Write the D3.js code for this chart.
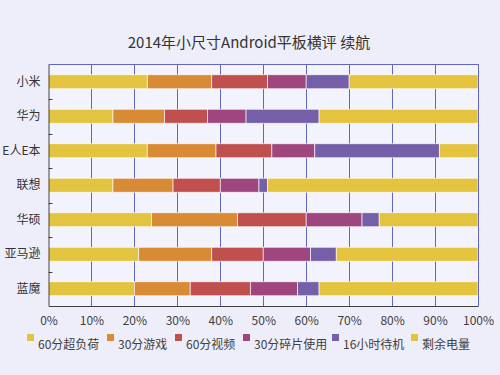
<!DOCTYPE html>
<html><head><meta charset="utf-8">
<script src="https://cdn.jsdelivr.net/npm/d3@7"></script>
<style>
html,body{margin:0;padding:0;background:#eeeefa;}
svg{display:block;font-family:"Noto Sans CJK SC","Noto Sans",sans-serif;}
</style></head>
<body><svg id="c" width="500" height="375"></svg>
<script>
const title = "2014年小尺寸Android平板横评 续航";
const categories = ["小米","华为","E人E本","联想","华硕","亚马逊","蓝魔"];
const seriesNames = ["60分超负荷","30分游戏","60分视频","30分碎片使用","16小时待机","剩余电量"];
const seriesColors = ["#e3c440","#d98a35","#bf504e","#a0467f","#755fa8","#e4c43f"];
const s1 = [23,15,23,15,24,21,20];
const s2 = [15,12,16,14,20,17,13];
const s3 = [13,10,13,11,16,12,14];
const s4 = [9,9,10,9,13,11,11];
const s5 = [10,17,29,2,4,6,5];
const s6 = [30,37,9,49,23,33,37];
const tickValues = [0,10,20,30,40,50,60,70,80,90,100];

const series = [s1,s2,s3,s4,s5,s6];
const svg = d3.select("#c");
const L=48.5, R=478, T=64.5, B=306;

svg.append("text").attr("x",249).attr("y",48).attr("text-anchor","middle")
  .attr("font-size",15).attr("fill","#333").text(title);

svg.append("rect").attr("x",L).attr("y",T).attr("width",R-L).attr("height",B-T).attr("fill","#f3f3fd");

const x = d3.scaleLinear().domain([0,100]).range([L,R]);
const y = d3.scaleBand().domain(categories).range([T,B]).padding(0);
const barH = 14;

// grid
svg.append("g").selectAll("line").data(tickValues.slice(1)).join("line")
  .attr("x1",d=>Math.round(x(d))+0.5).attr("x2",d=>Math.round(x(d))+0.5)
  .attr("y1",T).attr("y2",B).attr("stroke","#6464c4").attr("stroke-width",1);
svg.append("line").attr("x1",L).attr("x2",R+0.5).attr("y1",T).attr("y2",T).attr("stroke","#6464c4");

// bars
const stackData = categories.map((c,i)=>{const o={cat:c}; series.forEach((s,j)=>o["k"+j]=s[i]); return o;});
const stack = d3.stack().keys(series.map((s,j)=>"k"+j))(stackData);
svg.append("g").selectAll("g").data(stack).join("g").attr("fill",(d,i)=>seriesColors[i])
  .selectAll("rect").data(d=>d).join("rect")
  .attr("x",d=>x(d[0])).attr("width",d=>x(d[1])-x(d[0]))
  .attr("y",d=>y(d.data.cat)+(y.bandwidth()-barH)/2).attr("height",barH)
  .attr("stroke","#fff").attr("stroke-width",0.8).attr("stroke-opacity",0.8);

// axes
const xAxis = d3.axisBottom(x).tickValues(tickValues).tickSize(0).tickPadding(10).tickFormat(d=>d+"%");
const gx = svg.append("g").attr("transform",`translate(0,${B})`).call(xAxis);
gx.select(".domain").attr("stroke","#404040");
gx.selectAll("text").attr("font-size",12).attr("fill","#404040").attr("font-family","'Noto Sans CJK SC','Noto Sans',sans-serif");

const yAxis = d3.axisLeft(y).tickSize(0).tickPadding(8);
const gy = svg.append("g").attr("transform",`translate(${L},0)`).call(yAxis);
gy.select(".domain").attr("stroke","#404040");
gy.selectAll("text").attr("font-size",12).attr("fill","#333").attr("font-family","'Noto Sans CJK SC','Noto Sans',sans-serif");
// separator ticks between categories
svg.append("g").selectAll("line").data(categories.slice(1)).join("line")
  .attr("x1",L).attr("x2",L+4).attr("y1",d=>Math.round(y(d))+0.5).attr("y2",d=>Math.round(y(d))+0.5)
  .attr("stroke","#404040");
// right border
svg.append("line").attr("x1",R+0.5).attr("x2",R+0.5).attr("y1",T).attr("y2",B).attr("stroke","#6464c4");

// legend
const legX = [27,107,175,243,332,411];
const lg = svg.append("g").selectAll("g").data(seriesNames).join("g")
  .attr("transform",(d,i)=>`translate(${legX[i]},0)`);
lg.append("rect").attr("x",0).attr("y",334).attr("width",7).attr("height",7).attr("fill",(d,i)=>seriesColors[i]);
lg.append("text").attr("x",11).attr("y",348.5).attr("font-size",12).attr("fill","#404040").text(d=>d);
</script></body></html>
